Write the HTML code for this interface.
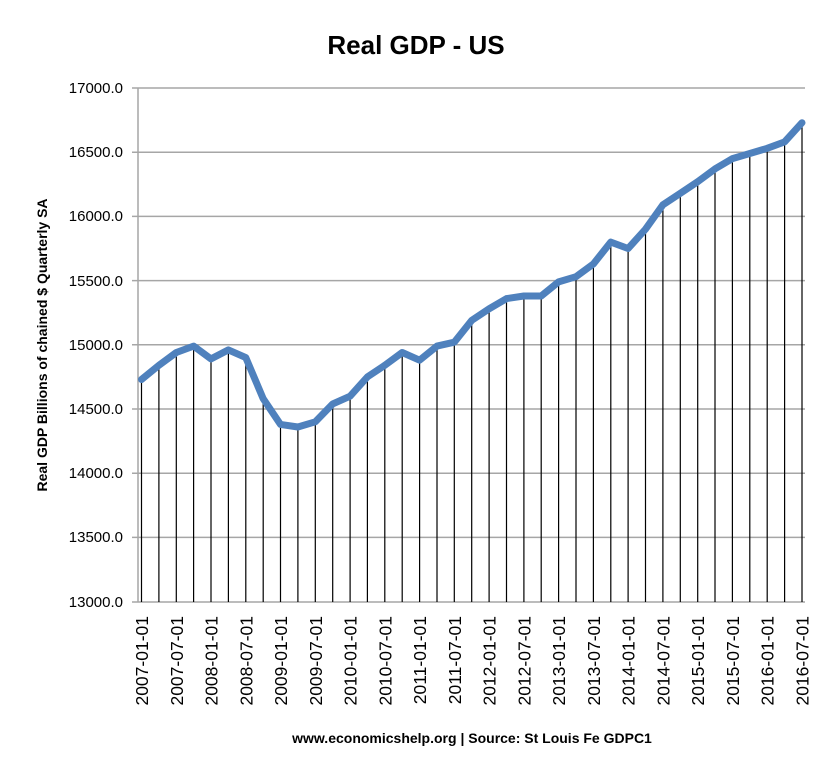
<!DOCTYPE html>
<html><head><meta charset="utf-8"><style>body{margin:0;background:#fff}svg{display:block}</style></head>
<body>
<svg width="832" height="772" xmlns="http://www.w3.org/2000/svg" font-family="Liberation Sans, sans-serif">
<rect width="832" height="772" fill="#fff"/>
<text x="416" y="54" text-anchor="middle" font-size="26" font-weight="bold">Real GDP - US</text>
<g stroke="#a6a6a6" stroke-width="1.5">
<line x1="132" y1="88" x2="805" y2="88"/>
<line x1="132" y1="152.2" x2="805" y2="152.2"/>
<line x1="132" y1="216.4" x2="805" y2="216.4"/>
<line x1="132" y1="280.6" x2="805" y2="280.6"/>
<line x1="132" y1="344.8" x2="805" y2="344.8"/>
<line x1="132" y1="409" x2="805" y2="409"/>
<line x1="132" y1="473.2" x2="805" y2="473.2"/>
<line x1="132" y1="537.4" x2="805" y2="537.4"/>
<line x1="132" y1="602" x2="805" y2="602"/>
<line x1="138" y1="88" x2="138" y2="602"/>
</g>
<g font-size="15" text-anchor="end" fill="#000">
<text x="123" y="93">17000.0</text>
<text x="123" y="157">16500.0</text>
<text x="123" y="221">16000.0</text>
<text x="123" y="286">15500.0</text>
<text x="123" y="350">15000.0</text>
<text x="123" y="414">14500.0</text>
<text x="123" y="478">14000.0</text>
<text x="123" y="542">13500.0</text>
<text x="123" y="607">13000.0</text>
</g>
<path stroke="#000" stroke-width="1.2" fill="none" d="M141.5 379.5V602M158.9 365.3V602M176.3 352.5V602M193.6 346.1V602M211 358.9V602M228.4 349.9V602M245.8 357.6V602M263.2 398.7V602M280.5 424.4V602M297.9 427V602M315.3 421.8V602M332.7 403.9V602M350.1 396.2V602M367.4 376.9V602M384.8 365.3V602M402.2 352.5V602M419.6 360.2V602M437 346.1V602M454.3 342.2V602M471.7 320.4V602M489.1 308.8V602M506.5 298.6V602M523.9 296V602M541.2 296V602M558.6 281.9V602M576 276.7V602M593.4 263.9V602M610.8 242.1V602M628.1 248.5V602M645.5 229.2V602M662.9 204.8V602M680.3 193.3V602M697.7 181.7V602M715 168.9V602M732.4 158.6V602M749.8 153.5V602M767.2 148.3V602M784.6 141.9V602M802 122.7V602"/>
<polyline fill="none" stroke="#4f81bd" stroke-width="7" stroke-linejoin="round" stroke-linecap="round" points="141.5,379.5 158.9,365.3 176.3,352.5 193.6,346.1 211,358.9 228.4,349.9 245.8,357.6 263.2,398.7 280.5,424.4 297.9,427 315.3,421.8 332.7,403.9 350.1,396.2 367.4,376.9 384.8,365.3 402.2,352.5 419.6,360.2 437,346.1 454.3,342.2 471.7,320.4 489.1,308.8 506.5,298.6 523.9,296 541.2,296 558.6,281.9 576,276.7 593.4,263.9 610.8,242.1 628.1,248.5 645.5,229.2 662.9,204.8 680.3,193.3 697.7,181.7 715,168.9 732.4,158.6 749.8,153.5 767.2,148.3 784.6,141.9 802,122.7"/>
<g font-size="17.5" text-anchor="end">
<text transform="translate(148,616) rotate(-90)">2007-01-01</text>
<text transform="translate(182.8,616) rotate(-90)">2007-07-01</text>
<text transform="translate(217.5,616) rotate(-90)">2008-01-01</text>
<text transform="translate(252.3,616) rotate(-90)">2008-07-01</text>
<text transform="translate(287,616) rotate(-90)">2009-01-01</text>
<text transform="translate(321.8,616) rotate(-90)">2009-07-01</text>
<text transform="translate(356.6,616) rotate(-90)">2010-01-01</text>
<text transform="translate(391.3,616) rotate(-90)">2010-07-01</text>
<text transform="translate(426.1,616) rotate(-90)">2011-01-01</text>
<text transform="translate(460.8,616) rotate(-90)">2011-07-01</text>
<text transform="translate(495.6,616) rotate(-90)">2012-01-01</text>
<text transform="translate(530.4,616) rotate(-90)">2012-07-01</text>
<text transform="translate(565.1,616) rotate(-90)">2013-01-01</text>
<text transform="translate(599.9,616) rotate(-90)">2013-07-01</text>
<text transform="translate(634.6,616) rotate(-90)">2014-01-01</text>
<text transform="translate(669.4,616) rotate(-90)">2014-07-01</text>
<text transform="translate(704.2,616) rotate(-90)">2015-01-01</text>
<text transform="translate(738.9,616) rotate(-90)">2015-07-01</text>
<text transform="translate(773.7,616) rotate(-90)">2016-01-01</text>
<text transform="translate(808.5,616) rotate(-90)">2016-07-01</text>
</g>
<text x="472" y="743" text-anchor="middle" font-size="14" font-weight="bold">www.economicshelp.org | Source: St Louis Fe GDPC1</text>
<text transform="translate(47,345) rotate(-90)" text-anchor="middle" font-size="14" font-weight="bold">Real GDP  Billions of chained $ Quarterly SA</text>
</svg>
</body></html>
